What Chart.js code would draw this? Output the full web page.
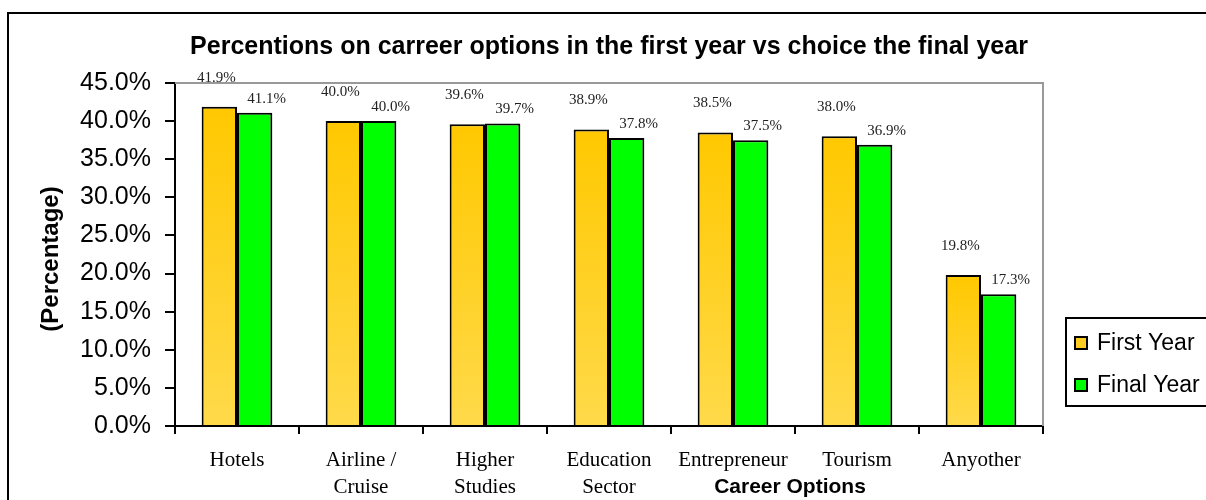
<!DOCTYPE html>
<html>
<head>
<meta charset="utf-8">
<script src="https://cdn.jsdelivr.net/npm/chart.js@4.4.1/dist/chart.umd.min.js"></script>
<style>
    html, body { margin: 0; padding: 0; background: #fff; }
    #wrap { width: 1206px; height: 500px; }
</style>
</head>
<body>
<div id="wrap"><canvas id="careerChart" width="1206" height="500"></canvas></div>
<script>
// chart data
const careerOptions = ['Hotels', ['Airline /', 'Cruise'], ['Higher', 'Studies'], ['Education', 'Sector'], 'Entrepreneur', 'Tourism', 'Anyother'];
const firstYear = [41.9, 40.0, 39.6, 38.9, 38.5, 38.0, 19.8];
const finalYear = [41.1, 40.0, 39.7, 37.8, 37.5, 36.9, 17.3];
const seriesNames = ['First Year', 'Final Year'];
const yMin = 0;
const yMax = 45;
const yStep = 5;

const chartTitle = 'Percentions on carreer options in the first year vs choice the final year';
const xTitle = 'Career Options';
const yTitle = '(Percentage)';

const SANS = "'Liberation Sans', Arial, sans-serif";
const SERIF = "'Liberation Serif', 'Times New Roman', serif";

// per-bar vertical gradient for the first year bars
function goldGradient(context) {
    const chart = context.chart;
    const yScale = chart.scales.y;
    if (!chart.chartArea || !yScale || context.parsed === undefined) return '#FFCC00';
    const top = yScale.getPixelForValue(context.parsed.y);
    const bottom = yScale.getPixelForValue(0);
    const g = chart.ctx.createLinearGradient(0, top, 0, bottom);
    g.addColorStop(0, '#FFC800');
    g.addColorStop(1, '#FFDA4A');
    return g;
}

// value labels, title, legend and frame drawn on top
const decorations = {
    id: 'decorations',
    afterDatasetsDraw(chart) {
        const ctx = chart.ctx;
        const offsets = [{dx: -3, dy: -29}, {dx: 12, dy: -14}];
        ctx.save();
        ctx.font = '15px ' + SERIF;
        ctx.fillStyle = '#222';
        ctx.textAlign = 'center';
        ctx.textBaseline = 'middle';
        chart.data.datasets.forEach((ds, i) => {
            const meta = chart.getDatasetMeta(i);
            meta.data.forEach((bar, j) => {
                ctx.fillText(ds.data[j].toFixed(1) + '%', bar.x + offsets[i].dx, bar.y + offsets[i].dy);
            });
        });
        ctx.restore();
    },
    afterDraw(chart) {
        const ctx = chart.ctx;
        const area = chart.chartArea;
        ctx.save();

        // gray top/right plot border
        ctx.strokeStyle = '#999';
        ctx.lineWidth = 2;
        ctx.beginPath();
        ctx.moveTo(area.left, area.top);
        ctx.lineTo(area.right, area.top);
        ctx.lineTo(area.right, area.bottom);
        ctx.stroke();

        // outer frame
        ctx.strokeStyle = '#000';
        ctx.lineWidth = 2;
        ctx.beginPath();
        ctx.moveTo(8, 510);
        ctx.lineTo(8, 13);
        ctx.lineTo(1215, 13);
        ctx.stroke();

        // chart title
        ctx.fillStyle = '#000';
        ctx.font = 'bold 25px ' + SANS;
        ctx.textAlign = 'center';
        ctx.textBaseline = 'middle';
        ctx.fillText(chartTitle, (area.left + area.right) / 2, 47);

        // axis titles
        ctx.font = 'bold 21px ' + SANS;
        ctx.fillText(xTitle, 790, 487);
        ctx.save();
        ctx.translate(51, 259);
        ctx.rotate(-Math.PI / 2);
        ctx.font = 'bold 24px ' + SANS;
        ctx.fillText(yTitle, 0, 0);
        ctx.restore();

        // legend box
        ctx.strokeStyle = '#000';
        ctx.lineWidth = 2;
        ctx.strokeRect(1066, 318, 160, 88);
        const legendY = [343, 385];
        ctx.font = '23px ' + SANS;
        ctx.textAlign = 'left';
        chart.data.datasets.forEach((ds, i) => {
            const y = legendY[i];
            ctx.fillStyle = i === 0 ? '#FFCC22' : ds.backgroundColor;
            ctx.fillRect(1075, y - 6, 12, 12);
            ctx.strokeRect(1075, y - 6, 12, 12);
            ctx.fillStyle = '#000';
            ctx.fillText(ds.label, 1097, y + 1);
        });
        ctx.restore();
    }
};

const ctx = document.getElementById('careerChart').getContext('2d');
new Chart(ctx, {
    type: 'bar',
    data: {
        labels: careerOptions,
        datasets: [
            {
                label: seriesNames[0],
                data: firstYear,
                backgroundColor: goldGradient,
                borderColor: '#000',
                borderWidth: 2
            },
            {
                label: seriesNames[1],
                data: finalYear,
                backgroundColor: '#00FF00',
                borderColor: '#000',
                borderWidth: 2
            }
        ]
    },
    options: {
        responsive: false,
        animation: false,
        events: [],
        layout: {
            padding: { left: 0, top: 83, right: 163, bottom: 0 }
        },
        datasets: {
            bar: { barPercentage: 1, categoryPercentage: 0.57 }
        },
        plugins: {
            legend: { display: false },
            title: { display: false },
            tooltip: { enabled: false }
        },
        scales: {
            x: {
                afterFit(scale) { scale.height = 74; },
                grid: {
                    offset: true,
                    drawOnChartArea: false,
                    color: '#000',
                    lineWidth: 2,
                    tickLength: 8
                },
                border: { color: '#000', width: 2 },
                ticks: {
                    color: '#000',
                    font: { family: SERIF, size: 21, lineHeight: 1.29 },
                    padding: 13,
                    maxRotation: 0,
                    autoSkip: false
                }
            },
            y: {
                min: yMin,
                max: yMax,
                afterFit(scale) { scale.width = 175; },
                grid: {
                    drawOnChartArea: false,
                    color: '#000',
                    lineWidth: 2,
                    tickLength: 10
                },
                border: { color: '#000', width: 2 },
                ticks: {
                    stepSize: yStep,
                    color: '#000',
                    font: { family: SANS, size: 25 },
                    padding: 14,
                    callback: v => v.toFixed(1) + '%'
                }
            }
        }
    },
    plugins: [decorations]
});
</script>
</body>
</html>
